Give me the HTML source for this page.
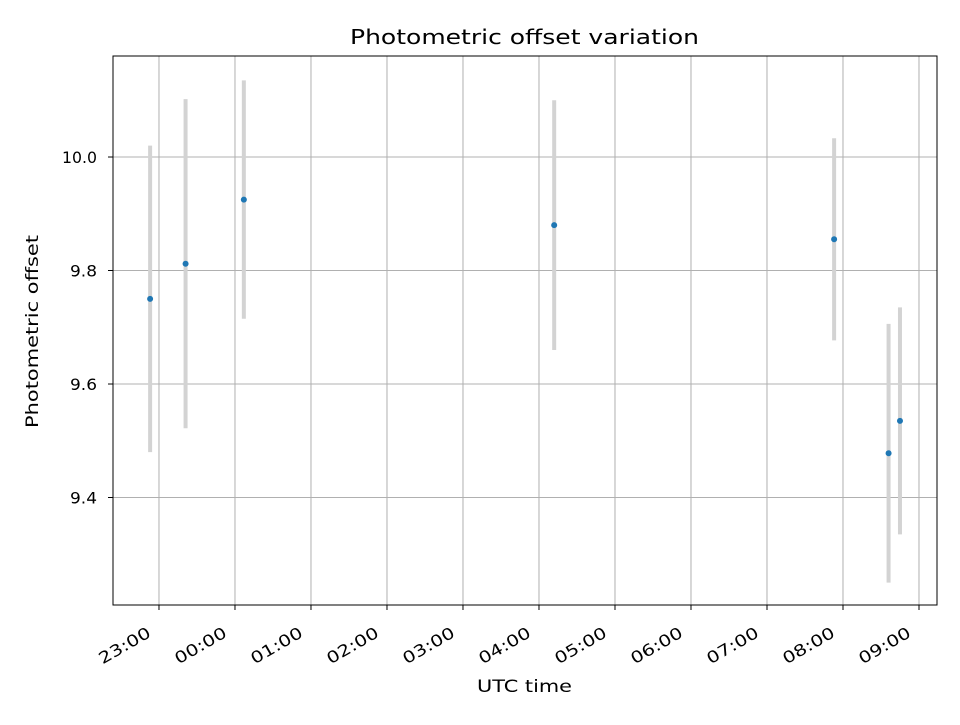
<!DOCTYPE html>
<html><head><meta charset="utf-8"><style>
body{margin:0;background:#fff;}
svg text{font-family:"DejaVu Sans","Liberation Sans",sans-serif;fill:#000;}
</style></head><body>
<svg width="960" height="720" xmlns="http://www.w3.org/2000/svg" id="chart">
<rect width="960" height="720" fill="#fff"/>
<g id="grid"></g><g id="marks"></g><g id="axes"></g>
<text x="350" y="44" font-size="20" textLength="349" lengthAdjust="spacingAndGlyphs">Photometric offset variation</text>
<text x="477" y="692" font-size="17" textLength="95" lengthAdjust="spacingAndGlyphs">UTC time</text>
<text x="38" y="428" font-size="17" textLength="193" lengthAdjust="spacingAndGlyphs" transform="rotate(-90 38 428)">Photometric offset</text>
</svg>
<script>
const times = ["22:53","23:21","00:07","04:12","07:53","08:36","08:45"];
const offsets = [9.75,9.812,9.925,9.88,9.855,9.478,9.535];
const errors = [0.27,0.29,0.21,0.22,0.178,0.228,0.20];
const xTickLabels = ["23:00","00:00","01:00","02:00","03:00","04:00","05:00","06:00","07:00","08:00","09:00"];
const yTicks = [9.4,9.6,9.8,10.0];

const L=113,R=937,T=56,B=605;
const xMin=-0.605,xMax=10.237,yMin=9.2106,yMax=10.178;
function hrs(t){let [h,m]=t.split(":").map(Number);let v=h+m/60-23;if(v<-12)v+=24;return v;}
const sx=v=>L+(v-xMin)/(xMax-xMin)*(R-L);
const sy=v=>B-(v-yMin)/(yMax-yMin)*(B-T);
const NS="http://www.w3.org/2000/svg";
function mk(p,tag,a){const e=document.createElementNS(NS,tag);for(const k in a)e.setAttribute(k,a[k]);p.appendChild(e);return e;}
const grid=document.getElementById('grid'),marks=document.getElementById('marks'),axes=document.getElementById('axes');
xTickLabels.forEach((lab)=>{
  const x=sx(hrs(lab));
  const g=mk(grid,'line',{x1:x,x2:x,y1:T,y2:B,stroke:'#b0b0b0','stroke-width':1});
  
  
  const t=mk(axes,'line',{x1:x,x2:x,y1:B,y2:B+5,stroke:'#000','stroke-width':1});
  
  
  const ax=x-7,ay=B+31;
  const tx=mk(axes,'text',{x:ax,y:ay,'font-size':16,'text-anchor':'end',textLength:57,lengthAdjust:'spacingAndGlyphs',transform:`rotate(-30 ${ax} ${ay})`});
  tx.textContent=lab;
  
  
});
yTicks.forEach(v=>{
  const y=sy(v);
  const g=mk(grid,'line',{x1:L,x2:R,y1:y,y2:y,stroke:'#b0b0b0','stroke-width':1});
  
  
  const t=mk(axes,'line',{x1:L-5,x2:L,y1:y,y2:y,stroke:'#000','stroke-width':1});
  
  
  const s=v.toFixed(1);
  const tx=mk(axes,'text',{x:L-16,y:y+6,'font-size':16,'text-anchor':'end',textLength:s.length===4?35:27,lengthAdjust:'spacingAndGlyphs'});
  tx.textContent=s;
  
  
});
times.forEach((t,i)=>{
  const x=sx(hrs(t));
  const e=mk(marks,'line',{x1:x,x2:x,y1:sy(offsets[i]+errors[i]),y2:sy(offsets[i]-errors[i]),stroke:'#d3d3d3','stroke-width':4});
  
  
});
times.forEach((t,i)=>{
  const p=mk(marks,'circle',{cx:sx(hrs(t)),cy:sy(offsets[i]),r:3,fill:'#1f77b4'});
  
  
});
const f=mk(axes,'rect',{x:L,y:T,width:R-L,height:B-T,fill:'none',stroke:'#000','stroke-width':1});


</script>
</body></html>
